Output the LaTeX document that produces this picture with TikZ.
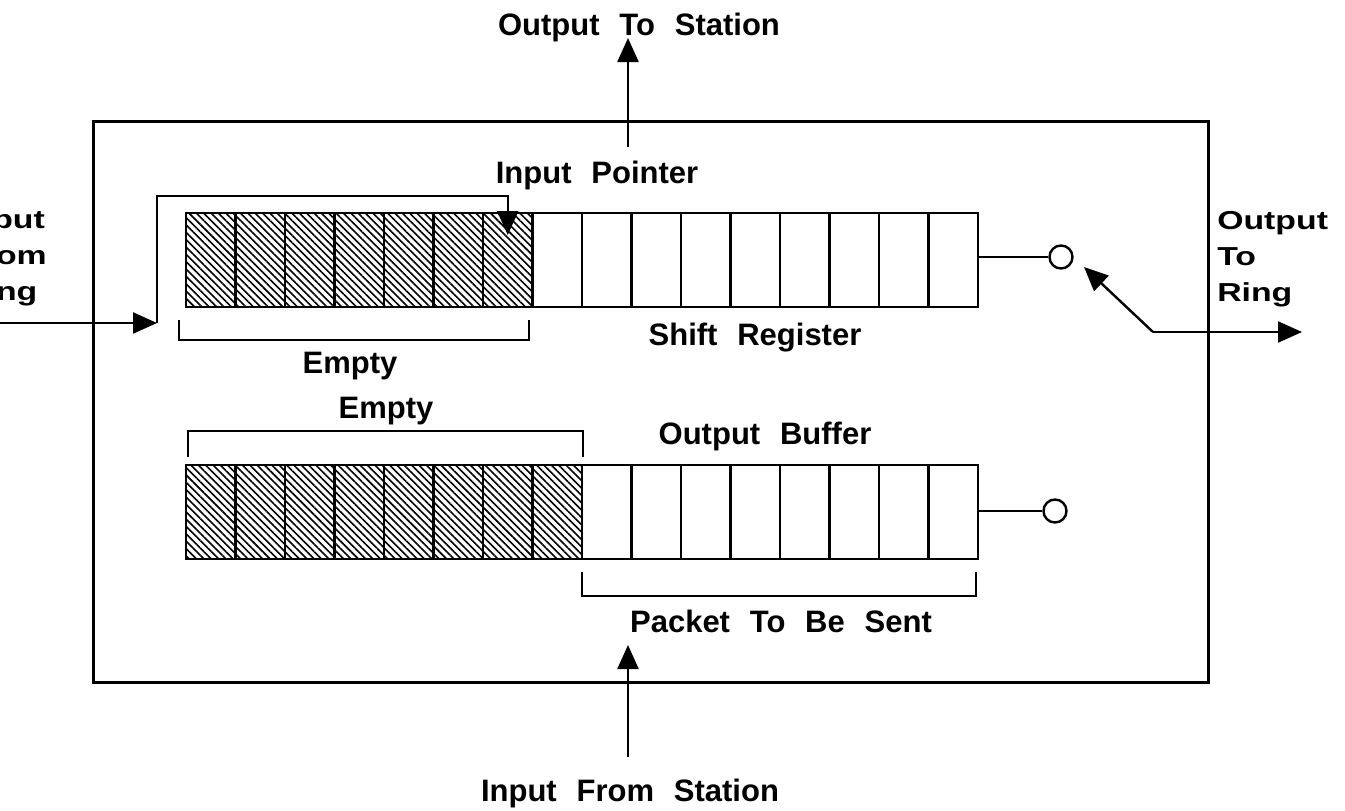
\documentclass[tikz,border=0pt]{standalone}
\usepackage{fontspec}
\setmainfont{Liberation Sans}[WordSpace=2.3]
\usetikzlibrary{patterns.meta,arrows.meta}
\newcommand\lblfont{\fontsize{31}{36}\selectfont\bfseries}
\newcommand\sidefont{\fontsize{26}{36}\selectfont\bfseries}
\begin{document}
\begin{tikzpicture}[x=1pt,y=-1pt,
  cellbox/.style={draw, line width=2.8pt, minimum width=49.5pt, minimum height=94pt, inner sep=0pt, outer sep=0pt},
  hatched/.style={cellbox, pattern={Lines[angle=-45,distance=5.2pt,line width=1.6pt]}},
  wire/.style={line width=2.4pt},
  arr/.style={wire, -{Triangle[length=24pt,width=21pt]}},
  tap/.style={circle, draw, line width=2.4pt, minimum size=23pt, inner sep=0pt, fill=white},
  lbl/.style={font=\lblfont, inner sep=0pt, anchor=base},
  side/.style={font=\sidefont, inner sep=0pt, xscale=1.3, align=left, anchor=north west},
  brace/.style={line width=2.4pt}
]
\useasboundingbox (0,0) rectangle (1345,811);
\clip (0,0) rectangle (1345,811);

% enclosing station box
\node[draw, line width=3pt, minimum width=1115pt, minimum height=561pt, inner sep=0pt] (frame) at (650.5,401.5) {};

% shift register: 7 empty (hatched) cells, 9 occupied cells
\foreach \i [evaluate=\i as \cx using 210.75+49.5*\i] in {0,...,15} {
  \ifnum\i<7
    \node[hatched] (s\i) at (\cx,260) {};
  \else
    \node[cellbox] (s\i) at (\cx,260) {};
  \fi
}

% output buffer: 8 empty (hatched) cells, 8 cells holding the packet
\foreach \i [evaluate=\i as \cx using 210.75+49.5*\i] in {0,...,15} {
  \ifnum\i<8
    \node[hatched] (b\i) at (\cx,512) {};
  \else
    \node[cellbox] (b\i) at (\cx,512) {};
  \fi
}

% switch contacts
\node[tap] (c1) at (1061,257) {};
\node[tap] (c2) at (1055,511) {};
\draw[wire] (s15.east |- c1) -- (c1.west);
\draw[wire] (b15.east |- c2) -- (c2.west);

% labels
\node[lbl] (tOTS) at (639,35) {Output To Station};
\node[lbl] (tIP) at (597,183) {Input Pointer};
\node[lbl] (tSR) at (755,345) {Shift Register};
\node[lbl] (tE1) at (350,373) {Empty};
\node[lbl] (tE2) at (386,418) {Empty};
\node[lbl] (tOB) at (765,444) {Output Buffer};
\node[lbl] (tPS) at (781,632) {Packet To Be Sent};
\node[lbl] (tIFS) at (630,801) {Input From Station};
\node[side] (tIFR) at (-38,210) {Input\\From\\Ring};
\node[side] (tOTR) at (1217,211) {Output\\To\\Ring};

% brackets
\draw[brace] (179,320) -- (179,340) -- (529,340) -- (529,320);
\draw[brace] (188,457) -- (188,431) -- (583,431) -- (583,457);
\draw[brace] (582,572) -- (582,596) -- (976,596) -- (976,572);

% output to station
\coordinate (ots) at (628,147);
\coordinate (otsTip) at (628,38);
\draw[arr] (ots) -- (otsTip);

% input from ring and the input pointer
\coordinate (ifr) at (-5,323);
\coordinate (bend) at (157,323);
\coordinate (ptrTip) at ([yshift=-22pt]s6.north);
\draw[arr] (ifr) -- (bend);
\draw[arr] (bend) -- (157,196) -| (ptrTip);

% output to ring with switch arm
\coordinate (knee) at (1153,332);
\coordinate (swTip) at (1084,267);
\coordinate (otrEnd) at (1302,332);
\draw[arr] (knee) -- (swTip);
\draw[arr] (knee) -- (otrEnd);

% input from station
\coordinate (ifs) at (628,757);
\coordinate (ifsTip) at (628,645);
\draw[arr] (ifs) -- (ifsTip);
\end{tikzpicture}
\end{document}
